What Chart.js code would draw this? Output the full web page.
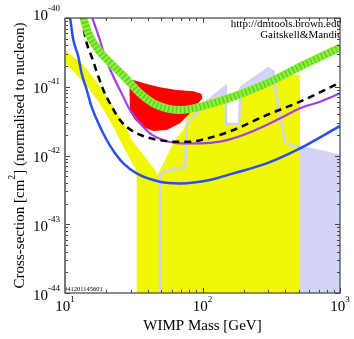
<!DOCTYPE html>
<html lang="en">
<head>
<meta charset="UTF-8">
<title>WIMP cross-section limits</title>
<script src="https://cdn.jsdelivr.net/npm/chart.js"></script>
<style>
  html, body { margin: 0; padding: 0; background: #fff; }
  #wrap { width: 354px; height: 339px; }
</style>
</head>
<body>
<div id="wrap"><canvas id="limits" width="354" height="339"></canvas></div>
<script>
// WIMP mass [GeV] and cross-section [cm^2]
const blueMass  = [10.9, 11.5, 12.5, 13.2, 14.4, 15.6, 17.5, 20.1, 23.1, 26.6, 33.2, 49, 69, 113, 168, 293, 512, 1000];
const blueSigma = [1.0e-40, 4.79e-41, 2.74e-41, 1.57e-41, 8.97e-42, 5.13e-42, 2.94e-42, 1.68e-42, 1.08e-42, 7.69e-43, 5.5e-43, 4.16e-43, 3.93e-43, 4.4e-43, 5.5e-43, 7.69e-43, 1.27e-42, 2.69e-42];

const purpleMass  = [15.8, 18.0, 19.5, 22.5, 25.8, 29.7, 35.1, 41.5, 51.9, 68.6, 95.9, 134, 198, 293, 409, 512, 715, 1000];
const purpleSigma = [1.0e-40, 4.68e-41, 2.74e-41, 1.40e-41, 8.02e-42, 4.59e-42, 2.94e-42, 2.10e-42, 1.68e-42, 1.50e-42, 1.50e-42, 1.59e-42, 1.99e-42, 2.78e-42, 3.88e-42, 4.85e-42, 6.07e-42, 8.02e-42];

const dashMass  = [13.2, 14.4, 15.6, 17.0, 19.0, 21.9, 25.1, 29.7, 37.1, 47.7, 61.4, 81.1, 107, 168, 293, 512, 1000];
const dashSigma = [1.0e-40, 4.28e-41, 2.74e-41, 1.66e-41, 8.97e-42, 5.13e-42, 3.28e-42, 2.40e-42, 1.92e-42, 1.68e-42, 1.59e-42, 1.59e-42, 1.76e-42, 2.35e-42, 3.88e-42, 6.07e-42, 1.15e-41];

const greenMass  = [13.6, 14.8, 17.5, 21.3, 27.3, 35.1, 43.9, 54.9, 68.6, 85.8, 107, 168, 293, 512, 1000];
const greenSigma = [1.0e-40, 5.98e-41, 3.42e-41, 2.24e-41, 1.37e-41, 8.02e-42, 5.74e-42, 4.85e-42, 4.59e-42, 4.85e-42, 5.43e-42, 7.18e-42, 1.12e-41, 1.96e-41, 3.70e-41];

// closed regions (outline in order)
const redMass  = [29.4, 31.4, 39.3, 49.1, 64.9, 85.8, 98.6, 99.7, 93.3, 81.1, 68.6, 54.9, 43.9, 37.1, 32.3, 29.7];
const redSigma = [1.12e-41, 1.25e-41, 1.10e-41, 9.82e-42, 8.97e-42, 8.58e-42, 7.85e-42, 6.79e-42, 5.74e-42, 4.10e-42, 2.94e-42, 2.35e-42, 2.27e-42, 2.57e-42, 3.28e-42, 4.34e-42];

const yellowMass  = [10, 11.5, 13.2, 15.2, 17.5, 20.1, 23.1, 26.6, 30.5, 33.2, 33.2, 512, 512, 346, 319, 293, 255, 222, 193, 184,
                     184, 148, 148, 127, 113, 101, 85.8, 83.4, 76.7, 72.6, 63.1, 54.9, 49.1, 47.2, 45.1, 38.2, 30.5, 28.9, 25.8, 22.5,
                     18.0, 13.6, 10];
const yellowSigma = [2.19e-41, 1.66e-41, 1.25e-41, 8.97e-42, 6.07e-42, 3.88e-42, 2.35e-42, 1.34e-42, 8.13e-43, 5.82e-43, 1e-44, 1e-44, 1.48e-41, 1.48e-41, 1.37e-41, 1.06e-41, 9.48e-42, 8.48e-42, 9.48e-42, 9.17e-42,
                     2.87e-42, 2.87e-42, 6.79e-42, 7.18e-42, 6.07e-42, 5.86e-42, 5.43e-42, 4.85e-42, 3.28e-42, 2.35e-42, 1.68e-42, 9.61e-43, 6.15e-43, 5.20e-43, 6.15e-43, 9.61e-43, 1.68e-42, 2.22e-42, 3.28e-42, 5.13e-42,
                     1.00e-41, 2.07e-41, 3.42e-41];

const lavMass  = [49.1, 49.1, 51.9, 74.6, 76.7, 78.9, 107, 148, 148, 184, 190, 301, 327, 356, 398, 433, 512, 946, 1000, 1000];
const lavSigma = [1e-44, 5.20e-43, 5.82e-43, 6.88e-43, 2.62e-42, 2.94e-42, 6.07e-42, 1.03e-41, 2.87e-42, 2.87e-42, 9.82e-42, 1.85e-41, 1.66e-41, 5.13e-42, 1.59e-42, 1.42e-42, 1.34e-42, 1.02e-42, 9.61e-43, 1e-44];

// axes
const massDecades  = [10, 100, 1000];
const sigmaDecades = [1e-44, 1e-43, 1e-42, 1e-41, 1e-40];
const xTitle = 'WIMP Mass [GeV]';
const yTitleParts = ['Cross-section [cm', '2', '] (normalised to nucleon)'];
const creditLines = ['http://dmtools.brown.edu', 'Gaitskell&Mandic'];
const stampText = '041201145601';

const pts = (xs, ys) => xs.map((m, i) => ({x: m, y: ys[i]}));
const SERIF = '"Liberation Serif", "Times New Roman", serif';

function drawPower(ctx, exp, x, baseY, align) {
  ctx.font = '15px ' + SERIF;
  const wBase = ctx.measureText('10').width;
  ctx.font = '9px ' + SERIF;
  const wExp = ctx.measureText(String(exp)).width;
  const total = wBase + wExp;
  const left = align === 'center' ? x - total / 2 : x - total;
  ctx.textAlign = 'left';
  ctx.font = '15px ' + SERIF;
  ctx.fillText('10', left, baseY);
  ctx.font = '9px ' + SERIF;
  ctx.fillText(String(exp), left + wBase, baseY - 9);
}

const frameAndLabels = {
  id: 'frameAndLabels',
  afterDraw(chart) {
    const {ctx, chartArea: a, scales: {x, y}} = chart;
    ctx.save();
    ctx.fillStyle = '#000';
    ctx.textBaseline = 'alphabetic';

    // credits + stamp, clipped to the plot
    ctx.save();
    ctx.beginPath();
    ctx.rect(a.left, a.top, a.right - a.left, a.bottom - a.top);
    ctx.clip();
    ctx.font = '11px ' + SERIF;
    ctx.textAlign = 'right';
    ctx.fillText(creditLines[0], a.right + 2, 27);
    ctx.fillText(creditLines[1], a.right + 2, 38);
    ctx.textAlign = 'left';
    ctx.font = '6.5px ' + SERIF;
    ctx.fillText(stampText, a.left - 1, a.bottom - 2);
    ctx.restore();

    // inside ticks on all four sides
    ctx.strokeStyle = '#444';
    ctx.lineWidth = 1;
    ctx.beginPath();
    for (let d = 0; d < massDecades.length; d++) {
      const top = d === massDecades.length - 1 ? 1 : 9;
      for (let k = 1; k <= top; k++) {
        const px = Math.round(x.getPixelForValue(k * massDecades[d])) + 0.5;
        const len = k === 1 ? 5 : 3;
        ctx.moveTo(px, a.bottom); ctx.lineTo(px, a.bottom - len);
        ctx.moveTo(px, a.top); ctx.lineTo(px, a.top + len);
      }
    }
    for (let d = 0; d < sigmaDecades.length; d++) {
      const top = d === sigmaDecades.length - 1 ? 1 : 9;
      for (let k = 1; k <= top; k++) {
        const py = Math.round(y.getPixelForValue(k * sigmaDecades[d])) + 0.5;
        const len = k === 1 ? 5 : 3;
        ctx.moveTo(a.left, py); ctx.lineTo(a.left + len, py);
        ctx.moveTo(a.right, py); ctx.lineTo(a.right - len, py);
      }
    }
    ctx.stroke();

    // frame
    ctx.strokeStyle = '#444';
    ctx.lineWidth = 1.2;
    ctx.strokeRect(a.left, a.top, a.right - a.left, a.bottom - a.top);
    ctx.strokeStyle = '#777';
    ctx.lineWidth = 2;
    ctx.beginPath();
    ctx.moveTo(a.left, a.top); ctx.lineTo(a.left, a.bottom);
    ctx.stroke();

    // tick labels
    massDecades.forEach(v => {
      drawPower(ctx, Math.round(Math.log10(v)), x.getPixelForValue(v), 311, 'center');
    });
    sigmaDecades.forEach((v, i) => {
      const py = y.getPixelForValue(v);
      const off = i === sigmaDecades.length - 1 ? 2 : 6.5;
      drawPower(ctx, Math.round(Math.log10(v)), 60, py + off, 'right');
    });

    // axis titles
    ctx.font = '15px ' + SERIF;
    ctx.textAlign = 'center';
    ctx.fillText(xTitle, (a.left + a.right) / 2, 330);

    ctx.save();
    ctx.translate(24, (a.top + a.bottom) / 2);
    ctx.rotate(-Math.PI / 2);
    ctx.textAlign = 'left';
    ctx.font = '15px ' + SERIF;
    const w1 = ctx.measureText(yTitleParts[0]).width;
    const w3 = ctx.measureText(yTitleParts[2]).width;
    ctx.font = '10px ' + SERIF;
    const w2 = ctx.measureText(yTitleParts[1]).width;
    const start = -(w1 + w2 + w3) / 2;
    ctx.font = '15px ' + SERIF;
    ctx.fillText(yTitleParts[0], start, 0);
    ctx.fillText(yTitleParts[2], start + w1 + w2, 0);
    ctx.font = '10px ' + SERIF;
    ctx.fillText(yTitleParts[1], start + w1, -9);
    ctx.restore();

    ctx.restore();
  }
};

const noLine = 'rgba(0,0,0,0)';
const smooth = { cubicInterpolationMode: 'monotone' };

new Chart(document.getElementById('limits'), {
  type: 'line',
  data: {
    datasets: [
      // drawn last-to-first: first entry ends on top
      { data: pts(greenMass, greenSigma), borderColor: '#5fd020', borderWidth: 7, borderDash: [1.5, 2.5], ...smooth },
      { data: pts(greenMass, greenSigma), borderColor: '#8cf03c', borderWidth: 8, ...smooth },
      { data: pts(dashMass, dashSigma), borderColor: '#000', borderWidth: 2.5, borderDash: [7, 5], ...smooth },
      { data: pts(blueMass, blueSigma), borderColor: '#2a50ec', borderWidth: 2.5, ...smooth },
      { data: pts(purpleMass, purpleSigma), borderColor: '#a040e6', borderWidth: 2.2, ...smooth },
      { data: pts(redMass, redSigma), borderColor: noLine, borderWidth: 1, backgroundColor: '#ff0000', fill: 'shape' },
      { data: pts(lavMass, lavSigma), borderColor: '#d2d2f4', borderWidth: 2.5 },
      { data: pts(yellowMass, yellowSigma), borderColor: noLine, borderWidth: 1, backgroundColor: '#f0f808', fill: 'shape' },
      { data: pts(lavMass, lavSigma), borderColor: noLine, borderWidth: 1, backgroundColor: '#d4d4f8', fill: 'shape' }
    ]
  },
  options: {
    responsive: false,
    animation: false,
    events: [],
    layout: { padding: { top: 18, right: 14, left: 0, bottom: 0 } },
    elements: {
      point: { radius: 0, hoverRadius: 0 },
      line: { tension: 0, fill: false, borderJoinStyle: 'round' }
    },
    datasets: { line: { clip: 0 } },
    plugins: { legend: { display: false }, tooltip: { enabled: false } },
    scales: {
      x: {
        type: 'logarithmic', min: 10, max: 1000,
        ticks: { display: false }, grid: { display: false }, border: { display: false },
        afterFit(s) { s.height = 46; }
      },
      y: {
        type: 'logarithmic', min: 1e-44, max: 1e-40,
        ticks: { display: false }, grid: { display: false }, border: { display: false },
        afterFit(s) { s.width = 65; }
      }
    }
  },
  plugins: [frameAndLabels]
});
</script>
</body>
</html>
